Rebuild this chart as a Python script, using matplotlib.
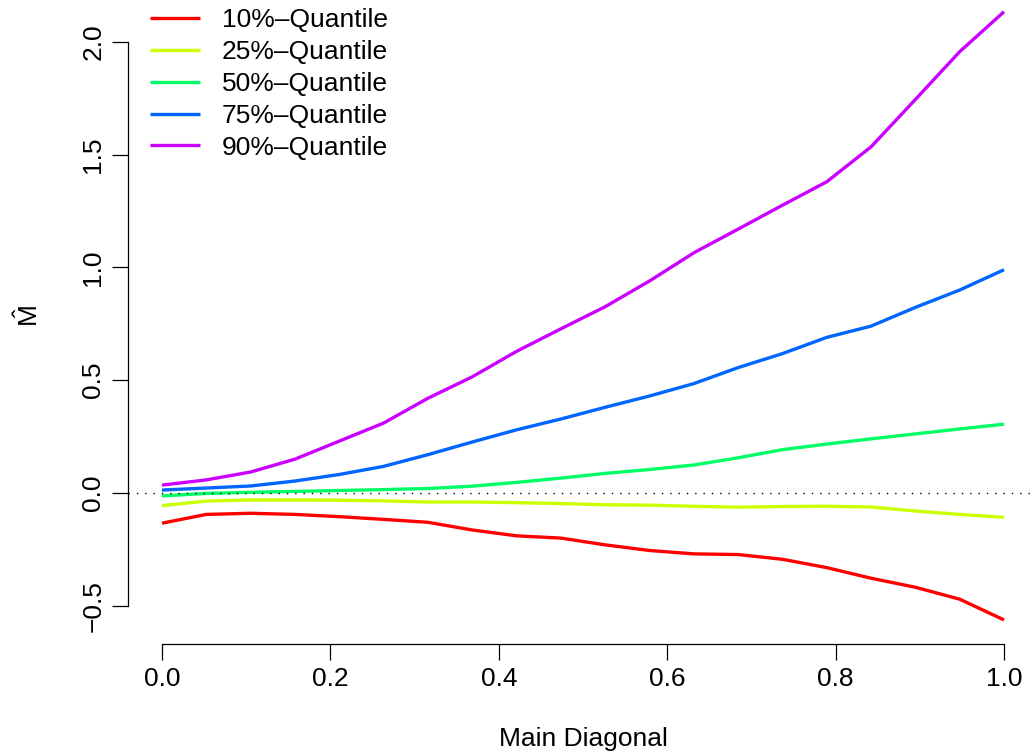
import numpy as np
import matplotlib
matplotlib.use('Agg')
from matplotlib import pyplot as plt

plt.rcParams['font.family'] = ['Liberation Sans', 'DejaVu Sans']
plt.rcParams['mathtext.fontset'] = 'custom'
plt.rcParams['mathtext.rm'] = 'Liberation Sans'

# diagonal positions (20 points, 0..1)
diag = np.linspace(0, 1, 20)

q10 = [-0.134, -0.095, -0.090, -0.095, -0.105, -0.117, -0.130, -0.164, -0.190, -0.200,
       -0.230, -0.255, -0.270, -0.273, -0.294, -0.331, -0.378, -0.418, -0.471, -0.563]
q25 = [-0.056, -0.036, -0.031, -0.031, -0.032, -0.035, -0.040, -0.040, -0.043, -0.047,
       -0.052, -0.054, -0.059, -0.063, -0.060, -0.059, -0.062, -0.080, -0.095, -0.108]
q50 = [-0.013, -0.002, 0.003, 0.007, 0.011, 0.015, 0.020, 0.030, 0.047, 0.066,
       0.087, 0.104, 0.124, 0.156, 0.192, 0.217, 0.240, 0.262, 0.284, 0.305]
q75 = [0.013, 0.022, 0.031, 0.053, 0.082, 0.118, 0.170, 0.226, 0.280, 0.328,
       0.380, 0.430, 0.485, 0.556, 0.618, 0.690, 0.740, 0.823, 0.900, 0.990]
q90 = [0.035, 0.058, 0.093, 0.150, 0.230, 0.310, 0.420, 0.515, 0.628, 0.728,
       0.826, 0.940, 1.065, 1.170, 1.276, 1.380, 1.535, 1.745, 1.957, 2.134]

labels = ['10%\u2013Quantile', '25%\u2013Quantile', '50%\u2013Quantile',
          '75%\u2013Quantile', '90%\u2013Quantile']
colors = ['#FF0000', '#CCFF00', '#00FF66', '#0066FF', '#CC00FF']

W, H = 1034, 756
fig = plt.figure(figsize=(W / 100, H / 100), dpi=100)

# plot region in pixels (R style, 4% padding)
left_px, right_px = 128.3, 1037.7
top_px, bot_px = -12.6, 644.3
ax = fig.add_axes([left_px / W, 1 - bot_px / H,
                   (right_px - left_px) / W, (bot_px - top_px) / H])
ax.set_xlim(-0.04, 1.04)
ax.set_ylim(-0.671, 2.242)

for vals, lab, col in zip([q10, q25, q50, q75, q90], labels, colors):
    ax.plot(diag, vals, color=col, lw=2.4, label=lab, solid_capstyle='butt')

ax.axhline(0, color='black', lw=1.0, ls=(0, (1, 5)), zorder=5)

for s in ['top', 'right']:
    ax.spines[s].set_visible(False)
ax.spines['left'].set_bounds(-0.5, 2.0)
ax.spines['bottom'].set_bounds(0, 1)
ax.spines['left'].set_linewidth(0.9)
ax.spines['bottom'].set_linewidth(0.9)

ax.set_xticks([0, 0.2, 0.4, 0.6, 0.8, 1.0])
ax.set_xticklabels(['0.0', '0.2', '0.4', '0.6', '0.8', '1.0'])
ax.set_yticks([-0.5, 0, 0.5, 1.0, 1.5, 2.0])
ax.set_yticklabels(['\u22120.5', '0.0', '0.5', '1.0', '1.5', '2.0'])
ax.tick_params(length=11.5, width=0.9, labelsize=19, pad=5)
plt.setp(ax.get_yticklabels(), rotation=90, va='center')

fig.text(583 / W, 1 - 746 / H, 'Main Diagonal', ha='center', va='baseline', fontsize=19)
fig.text(29 / W, 1 - 316 / H, r'$\hat{\mathrm{M}}$', ha='center', va='center',
         rotation=90, fontsize=19)

ax.legend(loc='upper left', bbox_to_anchor=(150 / W, 1 - 8 / H),
          bbox_transform=fig.transFigure, frameon=False, fontsize=19,
          borderaxespad=0, borderpad=0, handlelength=1.89, handletextpad=0.83,
          labelspacing=0.3)

fig.savefig('out.png', dpi=100)
